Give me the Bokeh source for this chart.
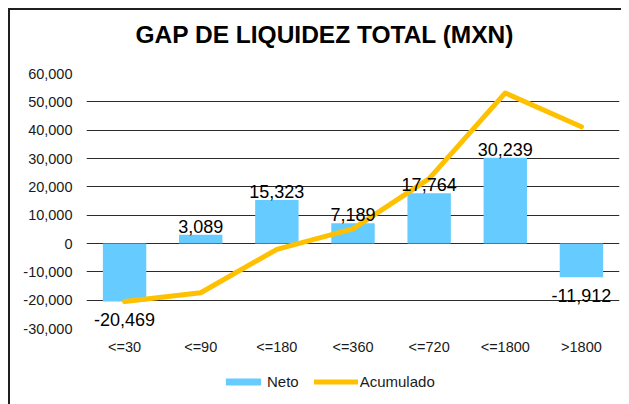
from bokeh.plotting import figure
from bokeh.models import (ColumnDataSource, FactorRange, Range1d, FixedTicker, NumeralTickFormatter,
                          Grid, LabelSet, Legend, LegendItem, Title)
from bokeh.layouts import column
from bokeh.core.properties import value
from bokeh.embed import file_html
from bokeh.resources import INLINE

categories = ["<=30", "<=90", "<=180", "<=360", "<=720", "<=1800", ">1800"]
neto = [-20469, 3089, 15323, 7189, 17764, 30239, -11912]
acumulado = [-20469, -17380, -2057, 5132, 22896, 53135, 41223]
y_ticks = [-30000, -20000, -10000, 0, 10000, 20000, 30000, 40000, 50000, 60000]
title_text = "GAP DE LIQUIDEZ TOTAL (MXN)"

FONT = "Liberation Sans"
BLUE = "#66CCFF"
ORANGE = "#FFC000"

src = ColumnDataSource(dict(
    cat=categories,
    neto=neto,
    acum=acumulado,
    lbl=[f"{v:,}" for v in neto],
    off=[2 if v >= 0 else -25 for v in neto],
))

p = figure(width=611, height=358, x_range=FactorRange(*categories),
           y_range=Range1d(y_ticks[0], y_ticks[-1]),
           output_backend="svg", toolbar_location=None,
           min_border_left=76, min_border_right=2, min_border_top=63, min_border_bottom=40)
p.outline_line_color = None
p.background_fill_color = "white"
p.border_fill_color = "white"

# blank spacer title (nearest the frame), then the real title above it
p.add_layout(Title(text=" ", text_font_size="6px", standoff=18), "above")
p.title.text = title_text
p.title.text_font = FONT
p.title.text_font_size = "24.5px"
p.title.text_font_style = "bold"
p.title.text_color = "#000000"
p.title.align = "left"
p.title.offset = 49
p.title.standoff = 0

# grids
p.xgrid.grid_line_color = None
p.ygrid.grid_line_color = None
p.add_layout(Grid(dimension=1, ticker=FixedTicker(ticks=y_ticks[1:-1]),
                  grid_line_color="#2b2b2b", grid_line_width=1))
p.add_layout(Grid(dimension=1, ticker=FixedTicker(ticks=[y_ticks[0], y_ticks[-1]]),
                  grid_line_color="#e3e3e3", grid_line_width=1))

# axes
p.yaxis.ticker = FixedTicker(ticks=y_ticks)
p.yaxis.formatter = NumeralTickFormatter(format="0,0")
for ax in (p.xaxis[0], p.yaxis[0]):
    ax.axis_line_color = None
    ax.major_tick_line_color = None
    ax.minor_tick_line_color = None
    ax.major_tick_out = 0
    ax.major_tick_in = 0
    ax.major_label_text_font = FONT
    ax.major_label_text_font_size = "14.5px"
    ax.major_label_text_color = "#1a1a1a"
p.yaxis.major_label_standoff = 14
p.xaxis.major_label_standoff = 10

bars = p.vbar(x="cat", top="neto", bottom=0, width=0.57, source=src,
              fill_color=BLUE, line_color=None)
line = p.line(x="cat", y="acum", source=src, line_color=ORANGE, line_width=5,
              line_join="round", line_cap="round")

labels = LabelSet(x="cat", y="neto", text="lbl", y_offset="off", source=src,
                  text_align="center", text_baseline="alphabetic",
                  text_font=value(FONT), text_font_size=value("18px"), text_color="#000000")
p.add_layout(labels)

# legend strip below the chart (its swatch renderers sit outside its visible range)
p2 = figure(width=611, height=36, x_range=FactorRange(*categories),
            y_range=Range1d(1e6, 1e6 + 1), output_backend="svg", toolbar_location=None,
            x_axis_location=None, y_axis_location=None,
            min_border_left=0, min_border_right=0, min_border_top=0, min_border_bottom=0)
p2.outline_line_color = None
p2.xgrid.grid_line_color = None
p2.ygrid.grid_line_color = None
p2.border_fill_color = "white"
bars2 = p2.vbar(x="cat", top="neto", bottom=0, width=0.57, source=src,
                fill_color=BLUE, line_color=None)
line2 = p2.line(x="cat", y="acum", source=src, line_color=ORANGE, line_width=5,
                line_join="round", line_cap="round")
legend = Legend(items=[LegendItem(label="Neto", renderers=[bars2]),
                       LegendItem(label="Acumulado", renderers=[line2])],
                orientation="horizontal", location=(135, 14),
                glyph_width=44, glyph_height=9, label_standoff=2, spacing=15,
                label_height=14, padding=0, margin=0,
                border_line_color=None, background_fill_alpha=0,
                label_text_font=FONT, label_text_font_size="15px",
                label_text_color="#1a1a1a")
p2.add_layout(legend, "center")

layout = column(p, p2, spacing=0)
layout.styles = {"border-top": "2px solid #1f1f1f", "border-left": "2px solid #1f1f1f",
                 "margin-top": "8px", "margin-left": "8px"}

open("out.html", "w").write(file_html(layout, INLINE))
